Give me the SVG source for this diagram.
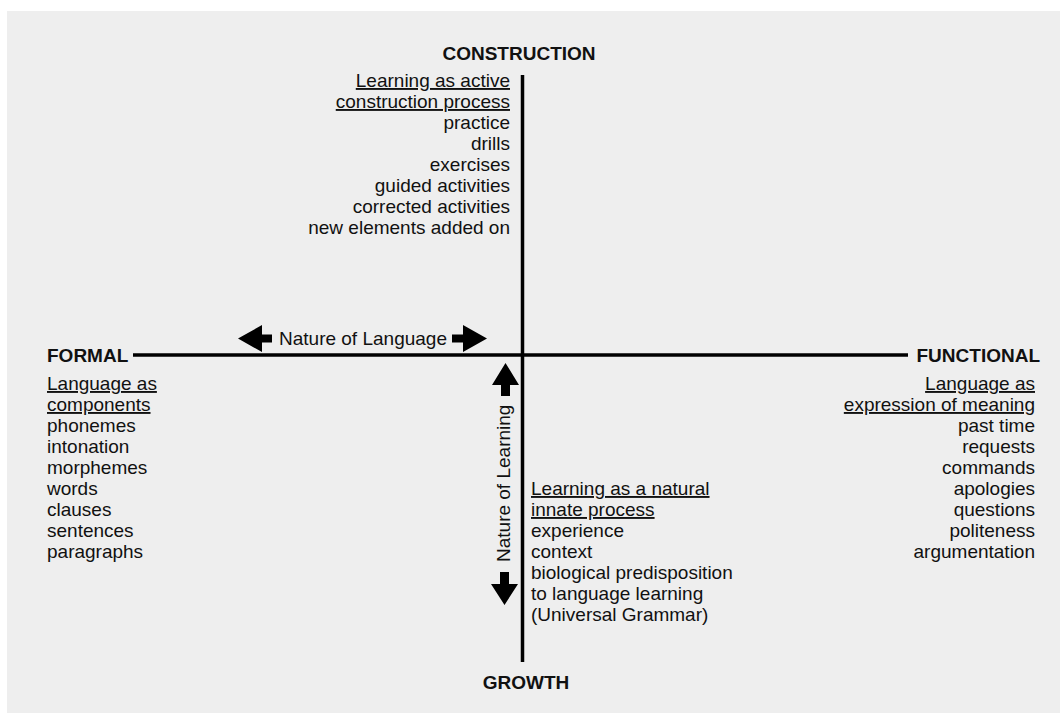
<svg xmlns="http://www.w3.org/2000/svg" width="1060" height="713" viewBox="0 0 1060 713">
<style>
text{font-family:"Liberation Sans",Arial,sans-serif;font-size:19px;fill:#111}
.b{font-weight:bold}
.u{text-decoration:underline}
.e{text-anchor:end}
.m{text-anchor:middle}
.ax{stroke:#000;stroke-width:3.5;fill:none}
.ar{fill:#000}
</style>
<rect x="0" y="0" width="1060" height="713" fill="#fff"/>
<rect x="7" y="11" width="1053" height="702" fill="#eeeeee"/>
<g id="connectors">
<line class="ax" x1="522.5" y1="75" x2="522.5" y2="662"/>
<line class="ax" x1="133" y1="355" x2="908" y2="355"/>
<polygon class="ar" points="238,338.5 262,325 262,334.5 272,334.5 272,342.5 262,342.5 262,352"/>
<polygon class="ar" points="487,338.5 463,325 463,334.5 452,334.5 452,342.5 463,342.5 463,352"/>
<polygon class="ar" points="505.5,363 492,385 501,385 501,396 510,396 510,385 519,385"/>
<polygon class="ar" points="504.5,605 491,584 500,584 500,572 509,572 509,584 518,584"/>
</g>
<g id="construction"><text class="b m" x="519" y="60">CONSTRUCTION</text></g>
<g id="growth"><text class="b m" x="526" y="689">GROWTH</text></g>
<g id="formal"><text class="b" x="47" y="362">FORMAL</text></g>
<g id="functional"><text class="b e" x="1040" y="362">FUNCTIONAL</text></g>
<g id="nature-language"><text x="279" y="345">Nature of Language</text></g>
<g id="nature-learning"><text transform="translate(510,562) rotate(-90)" x="0" y="0">Nature of Learning</text></g>
<g id="construction-list">
<text class="e u" x="510" y="87">Learning as active</text>
<text class="e u" x="510" y="108">construction process</text>
<text class="e" x="510" y="129">practice</text>
<text class="e" x="510" y="150">drills</text>
<text class="e" x="510" y="171">exercises</text>
<text class="e" x="510" y="192">guided activities</text>
<text class="e" x="510" y="213">corrected activities</text>
<text class="e" x="510" y="234">new elements added on</text>
</g>
<g id="formal-list">
<text class="u" x="47" y="390">Language as</text>
<text class="u" x="47" y="411">components</text>
<text x="47" y="432">phonemes</text>
<text x="47" y="453">intonation</text>
<text x="47" y="474">morphemes</text>
<text x="47" y="495">words</text>
<text x="47" y="516">clauses</text>
<text x="47" y="537">sentences</text>
<text x="47" y="558">paragraphs</text>
</g>
<g id="functional-list">
<text class="e u" x="1035" y="390">Language as</text>
<text class="e u" x="1035" y="411">expression of meaning</text>
<text class="e" x="1035" y="432">past time</text>
<text class="e" x="1035" y="453">requests</text>
<text class="e" x="1035" y="474">commands</text>
<text class="e" x="1035" y="495">apologies</text>
<text class="e" x="1035" y="516">questions</text>
<text class="e" x="1035" y="537">politeness</text>
<text class="e" x="1035" y="558">argumentation</text>
</g>
<g id="growth-list">
<text class="u" x="531" y="495">Learning as a natural</text>
<text class="u" x="531" y="516">innate process</text>
<text x="531" y="537">experience</text>
<text x="531" y="558">context</text>
<text x="531" y="579">biological predisposition</text>
<text x="531" y="600">to language learning</text>
<text x="531" y="621">(Universal Grammar)</text>
</g>
</svg>
